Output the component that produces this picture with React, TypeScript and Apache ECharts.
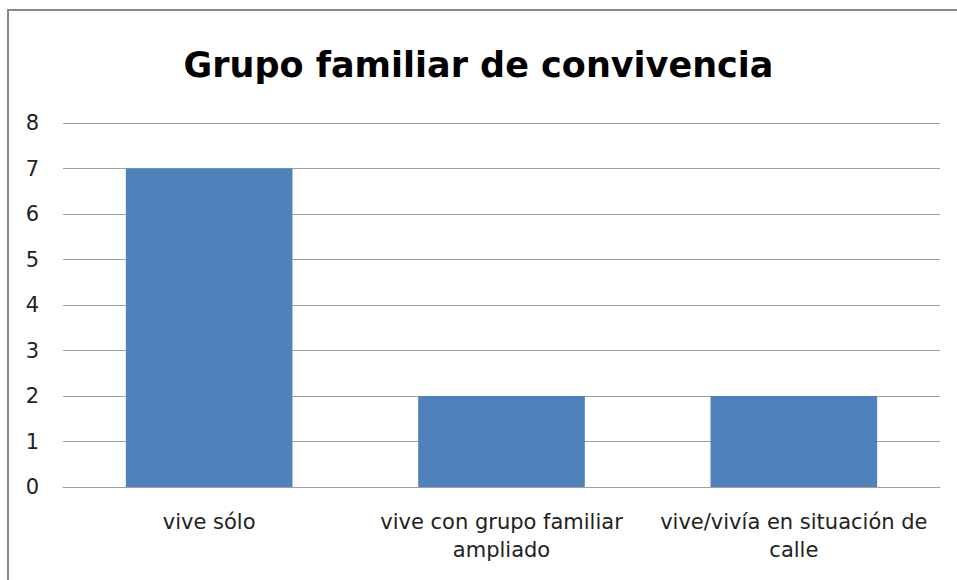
import React, { useEffect, useRef } from "react";
import * as echarts from "echarts";

const categories = [
  "vive sólo",
  "vive con grupo familiar\nampliado",
  "vive/vivía en situación de\ncalle",
];
const values = [7, 2, 2];
const titleText = "Grupo familiar de convivencia";

const FONT = "DejaVu Sans";

export default function App() {
  const ref = useRef<HTMLDivElement>(null);
  useEffect(() => {
    if (!ref.current) return;
    const chart = echarts.init(ref.current, undefined, { renderer: "svg" });
    chart.setOption({
      animation: false,
      backgroundColor: "#ffffff",
      title: {
        text: titleText,
        left: "center",
        top: 42,
        textStyle: { fontFamily: FONT, fontWeight: "bold", fontSize: 35, color: "#000" },
      },
      graphic: [
        {
          type: "rect",
          shape: { x: 8, y: 10, width: 1000, height: 700 },
          style: { fill: "none", stroke: "#888888", lineWidth: 2 },
          silent: true,
        },
      ],
      grid: { left: 63, right: 17, top: 123, bottom: 93 },
      xAxis: {
        type: "category",
        data: categories,
        axisLine: { lineStyle: { color: "#a0a0a0" } },
        axisTick: { show: false },
        axisLabel: {
          interval: 0,
          fontFamily: FONT,
          fontSize: 21,
          color: "#222",
          margin: 21,
          lineHeight: 28,
        },
      },
      yAxis: {
        type: "value",
        min: 0,
        max: 8,
        interval: 1,
        axisLine: { show: false },
        axisTick: { show: false },
        splitLine: { lineStyle: { color: "#a0a0a0" } },
        axisLabel: { fontFamily: FONT, fontSize: 21, color: "#222", margin: 24 },
      },
      series: [
        {
          type: "bar",
          data: values,
          barWidth: "57%",
          itemStyle: { color: "#4f81bd" },
        },
      ],
    });
    return () => chart.dispose();
  }, []);
  return (
    <div
      ref={ref}
      style={{ position: "absolute", left: 0, top: 0, width: 957, height: 580 }}
    />
  );
}
